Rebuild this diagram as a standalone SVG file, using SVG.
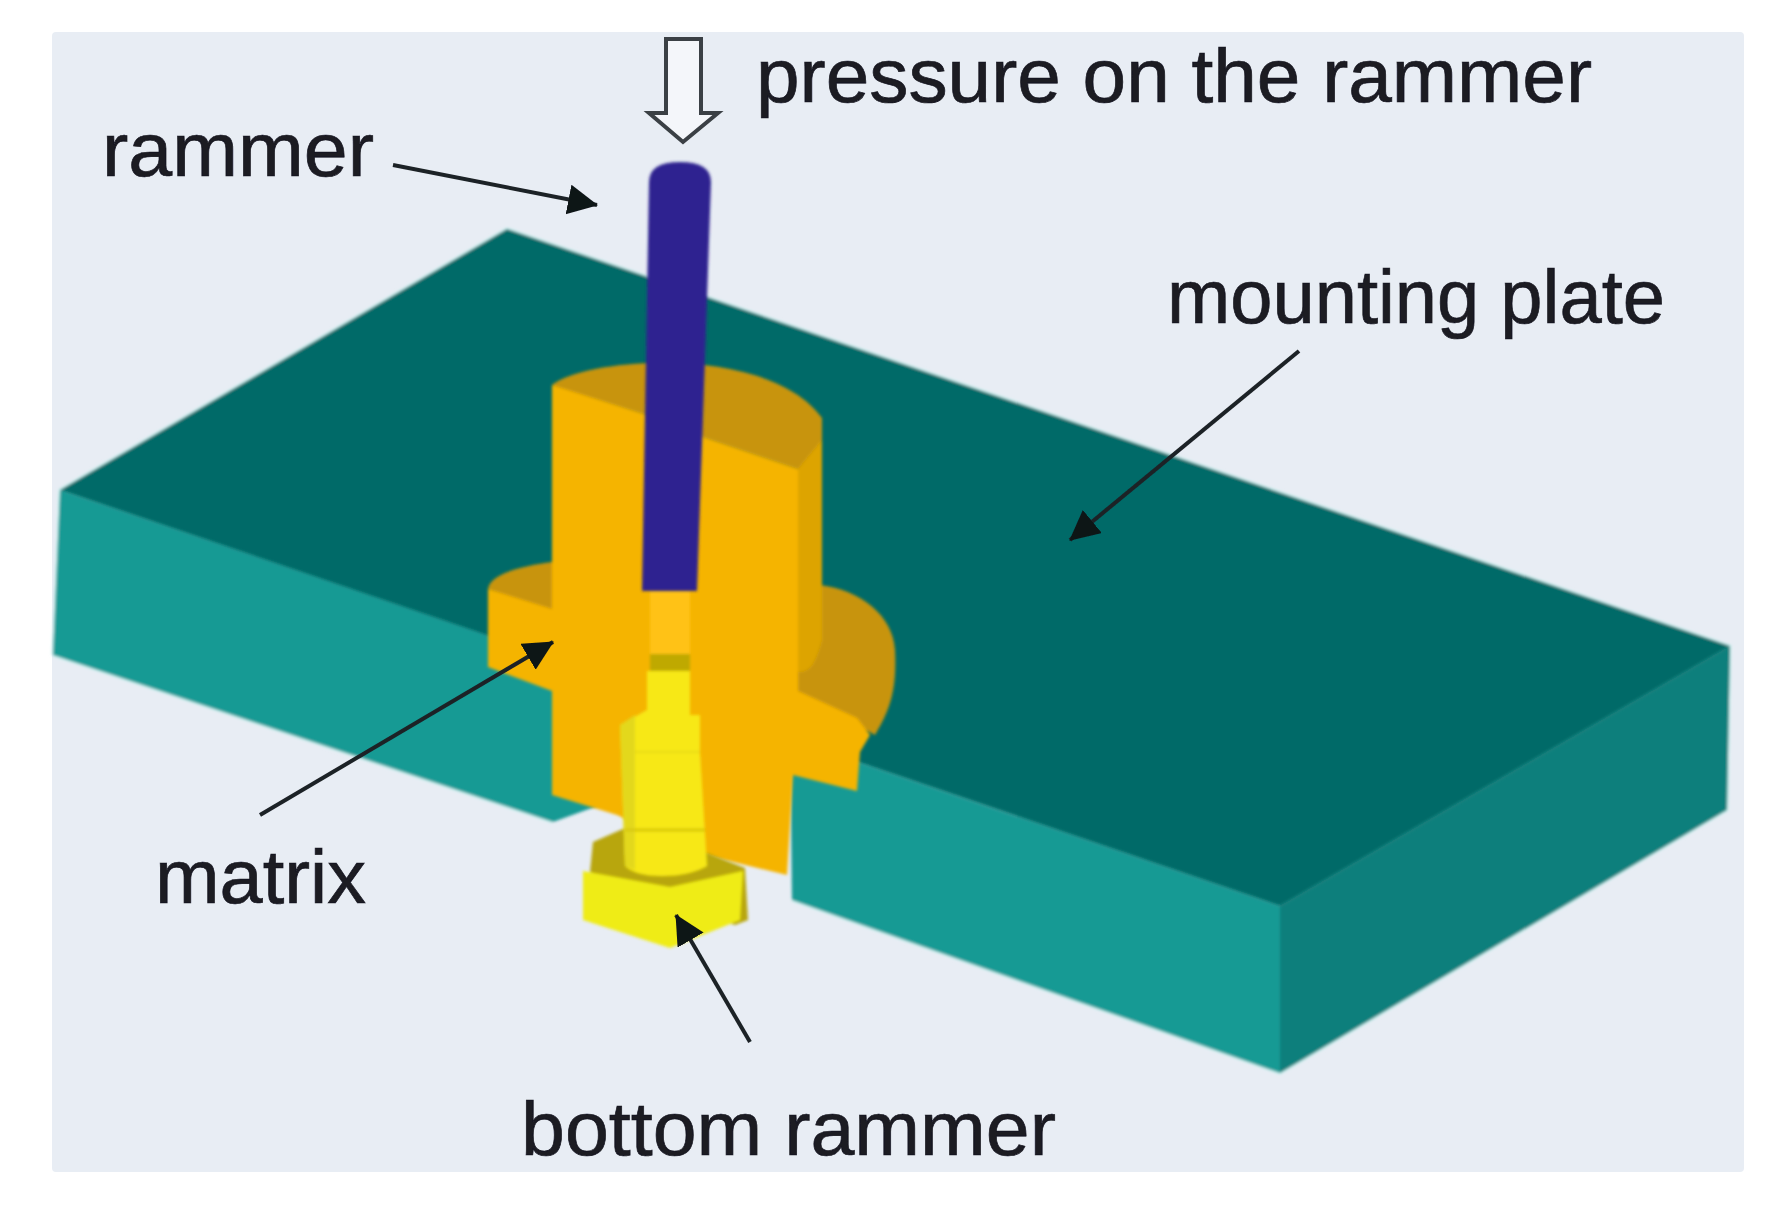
<svg xmlns="http://www.w3.org/2000/svg" width="1776" height="1208" viewBox="0 0 1776 1208">
<style>
.t{font-family:"Liberation Sans",Arial,sans-serif;font-size:76px;fill:#1a1a22;stroke:#1a1a22;stroke-width:.7}
.l{fill:none;stroke:#1c2226;stroke-width:4}
.o{fill:#F5B400}.d{fill:#C8940A}.y{fill:#F7E814}
.e{fill:none;stroke:#CFF3F2;stroke-width:3}
</style>
<defs>
<filter id="b" x="-5%" y="-5%" width="110%" height="110%"><feGaussianBlur stdDeviation="1.6"/></filter>
<filter id="s" x="-5%" y="-20%" width="110%" height="140%"><feGaussianBlur stdDeviation="0.7"/></filter>
<marker id="a" markerUnits="userSpaceOnUse" markerWidth="40" markerHeight="40" refX="29" refY="15" orient="auto"><path d="M0 0L30 15L0 30Z" fill="#101418"/></marker>
</defs>
<rect width="1776" height="1208" fill="#fff"/>
<rect x="52" y="32" width="1692" height="1140" rx="4" fill="#E8EDF4"/>
<g id="mounting-plate" filter="url(#b)">
<path class="e" d="M53 655L60 490L507 229L1730 646L1727 810L1280 1073L792 900M53 655L553 822"/>
<path d="M507 229L1730 646L1280 906L60 490Z" fill="#046A68"/>
<path d="M60 490L560 660L600 805L553 822L53 655Z" fill="#149A94"/>
<path d="M790 739L1280 906V1073L792 900Z" fill="#149A94"/>
<path d="M1280 906L1730 646L1727 810L1280 1073Z" fill="#0E7F7B"/>
</g>
<g id="matrix" filter="url(#b)">
<path class="d" d="M552 385C590 356 770 345 822 418V670L798 691V469L700 436L647 415L563 389Z"/>
<path class="d" d="M820 585C860 590 893 615 895 650C897 690 890 710 875 735L797 691V670L820 666Z"/>
<path class="d" d="M488 589C490 572 530 565 552 562V612Z"/>
<path d="M798 469L822 440V640C815 665 810 672 798 672Z" fill="#DDA404"/>
<path class="o" d="M552 385L647 415L700 436L798 469V691L857 718L870 735L860 752L857 791L793 775L787 875L700 854L617 815L552 795V691L488 667V589L552 609Z"/>
</g>
<g id="bottom-rammer" filter="url(#b)">
<path d="M590 872L593 842L625 828L700 850L745 868L748 920L735 925Z" fill="#B8A60C"/>
<path d="M583 871L670 887L743 871L740 920L670 948L583 920Z" fill="#EFEC12"/>
<rect x="650" y="590" width="40" height="64" fill="#FFC214"/>
<rect x="650" y="654" width="40" height="17" fill="#BFA900"/>
<path class="y" d="M647 671H690V715H700V752L707 866Q690 876 662 876Q635 876 625 866L620 725L647 710Z"/>
<path d="M620 725L635 715V870L625 866Z" fill="#E3D81A"/>
<path d="M625 830H705" stroke="#D8C80E" stroke-width="3"/>
<path d="M635 752H700" stroke="#E9DA10" stroke-width="2"/>
</g>
<g id="rammer" filter="url(#b)">
<path d="M649 182Q649 162 680 162Q711 162 711 182L697 591H642Z" fill="#2E2490"/>
</g>
<g id="connectors" filter="url(#s)">
<path class="l" d="M393 165L597 205" marker-end="url(#a)"/>
<path class="l" d="M1299 351L1070 540" marker-end="url(#a)"/>
<path class="l" d="M260 815L553 642" marker-end="url(#a)"/>
<path class="l" d="M750 1042L676 915" marker-end="url(#a)"/>
<path d="M666 39H701V113H718L683 142L649 113H666Z" fill="#F4F6FA" stroke="#3a3f44" stroke-width="4"/>
</g>
<g id="labels" filter="url(#s)">
<text class="t" x="756" y="102" textLength="836" lengthAdjust="spacingAndGlyphs">pressure on the rammer</text>
<text class="t" x="102" y="176" textLength="272" lengthAdjust="spacingAndGlyphs">rammer</text>
<text class="t" x="1167" y="323" textLength="498" lengthAdjust="spacingAndGlyphs">mounting plate</text>
<text class="t" x="155" y="903" textLength="211" lengthAdjust="spacingAndGlyphs">matrix</text>
<text class="t" x="521" y="1155" textLength="535" lengthAdjust="spacingAndGlyphs">bottom rammer</text>
</g>
</svg>
